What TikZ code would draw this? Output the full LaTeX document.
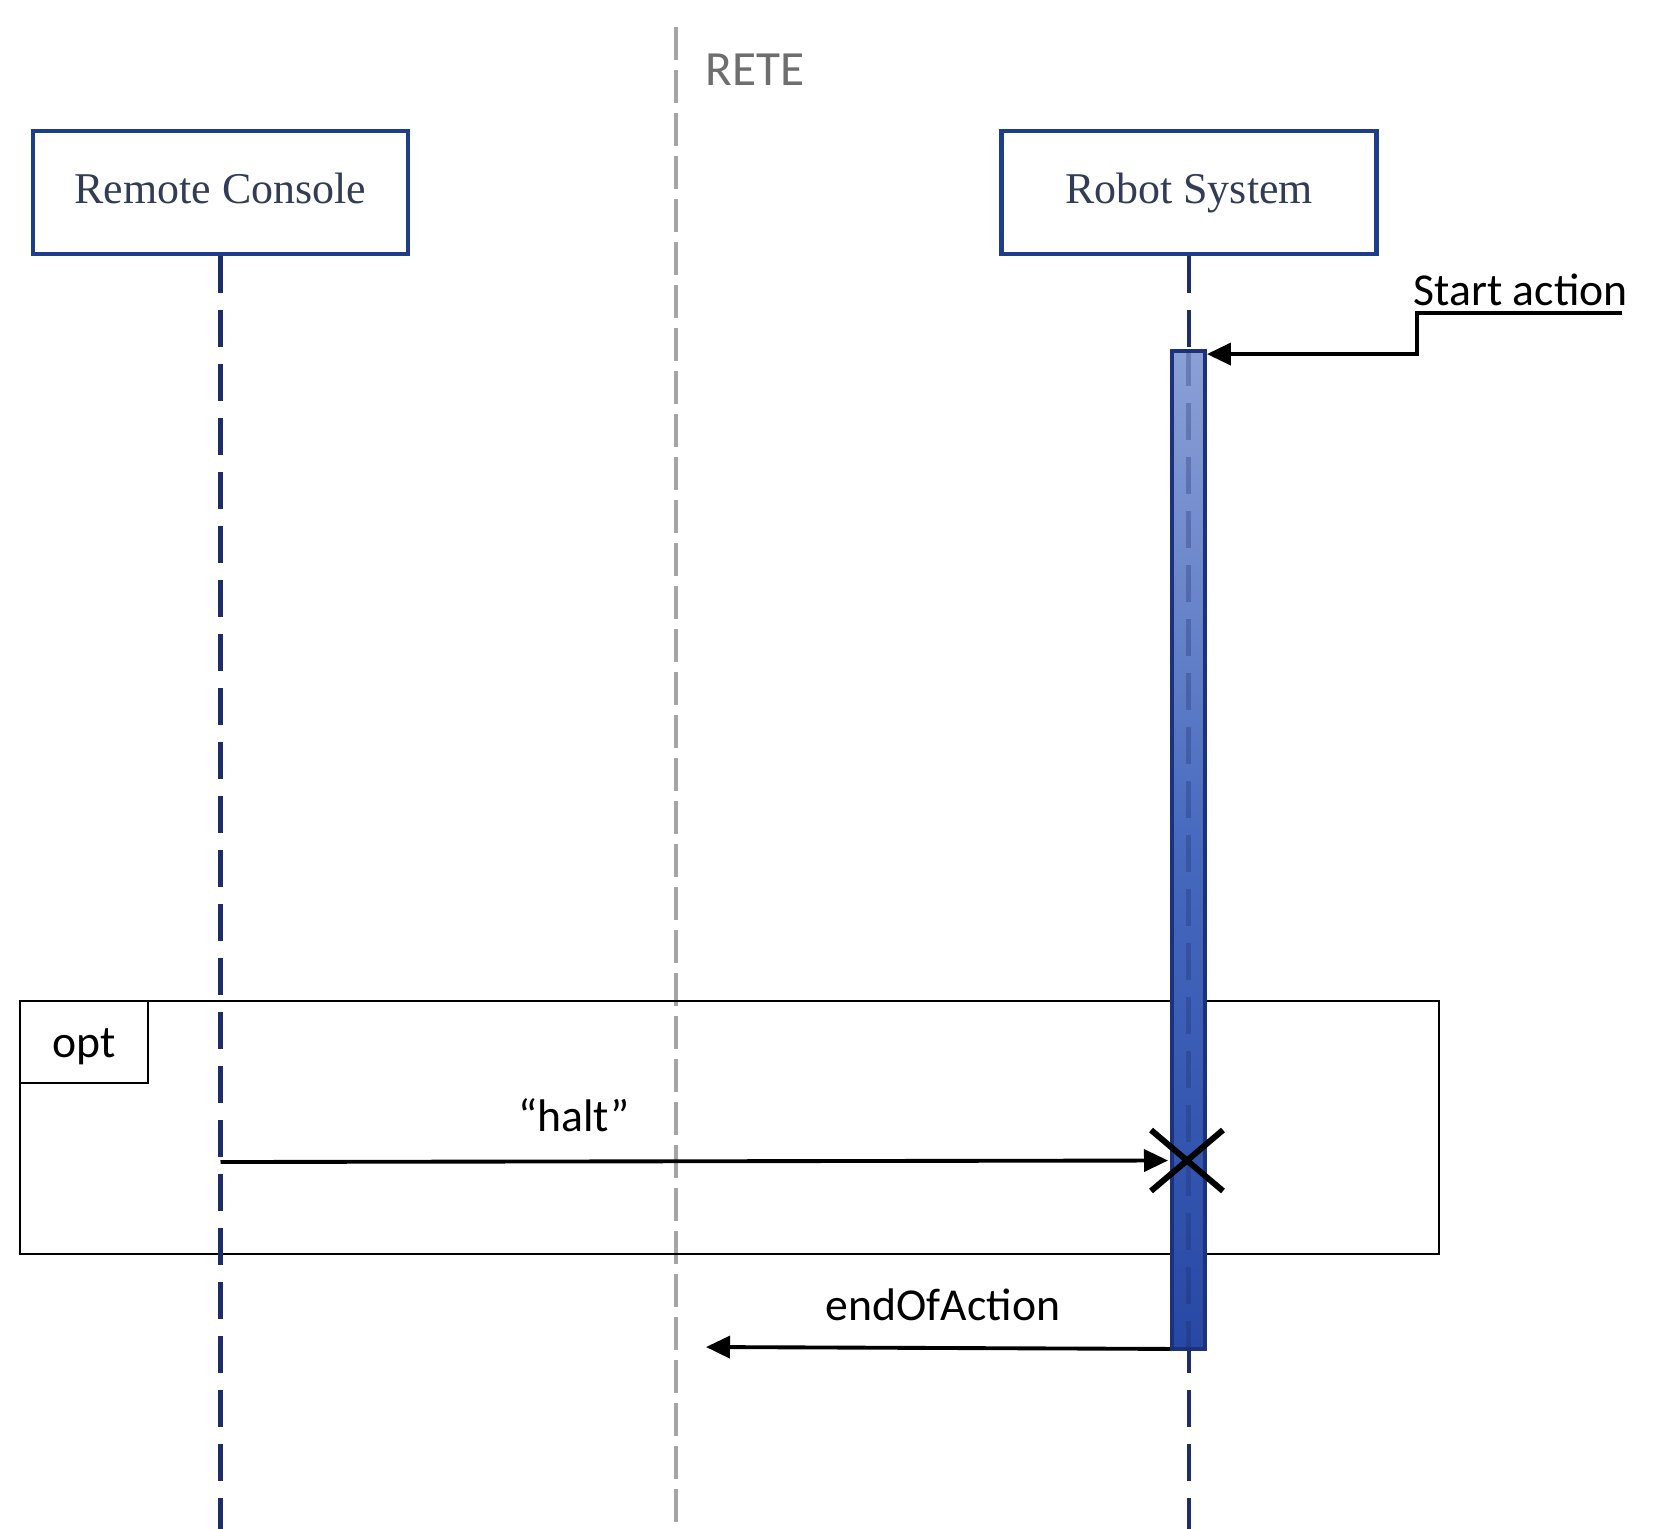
\documentclass[tikz,border=0pt]{standalone}
\usepackage{fontspec}
\setmainfont{Carlito}
\newfontfamily\serifnm{Liberation Serif}
\usetikzlibrary{arrows.meta,shapes.misc,calc}
\definecolor{boxblue}{RGB}{30,62,140}
\definecolor{lifeblue}{RGB}{28,45,105}
\definecolor{txtslate}{RGB}{50,60,85}
\definecolor{bartop}{RGB}{140,160,215}
\definecolor{barmid}{RGB}{70,105,190}
\definecolor{barbot}{RGB}{40,72,165}
\definecolor{barline}{RGB}{28,50,125}
\definecolor{retegray}{RGB}{165,165,165}
\definecolor{retetext}{RGB}{110,110,110}
\begin{document}
\begin{tikzpicture}[
  participant/.style={draw=boxblue, line width=1.2pt, minimum width=3.75cm, minimum height=1.23cm, inner sep=0pt, text height=0.31cm, text depth=0.09cm, font=\serifnm\fontsize{12.5}{14}\selectfont, text=txtslate},
  lifeline/.style={draw=lifeblue, line width=1.4pt, dash pattern=on 0.37cm off 0.17cm},
  netline/.style={draw=retegray, line width=1.1pt, dash pattern=on 0.33cm off 0.1cm},
  msg/.style={draw=black, line width=1.1pt, -{Triangle[length=0.24cm,width=0.22cm]}},
  lbl/.style={font=\fontsize{13}{15}\selectfont, inner sep=0pt},
  frameline/.style={draw=black, line width=0.6pt},
]
\useasboundingbox (0,0) rectangle (16.79,-15.29);
\coordinate (bottom) at (0,-15.29);

% network boundary
\coordinate (netTop) at (6.76,-0.27);
\draw[netline] (netTop) -- (netTop |- bottom);
\node[anchor=base west, font=\fontsize{14}{16}\selectfont, text=retetext, inner sep=0pt] (rete) at (7.05,-0.85) {RETE};

% opt frame
\node[frameline, anchor=north west, minimum width=14.19cm, minimum height=2.53cm, inner sep=0pt] (frame) at (0.19,-10.00) {};
\node[frameline, anchor=north west, minimum width=1.28cm, minimum height=0.82cm, inner sep=0pt, text height=0.42cm, text depth=0.11cm, font=\fontsize{13}{15}\selectfont] (optlbl) at (frame.north west) {opt};

% participants
\node[participant] (rc) at (2.205,-1.925) {Remote Console};
\node[participant] (rs) at (11.89,-1.925) {Robot System};

% lifelines
\draw[lifeline] (rc.south) -- (rc.south |- bottom);
\draw[lifeline] (rs.south) -- (rs.south |- bottom);

% activation bar
\node[draw=barline, line width=1.1pt, minimum width=0.33cm, minimum height=9.98cm, inner sep=0pt, top color=bartop, bottom color=barbot, middle color=barmid] (bar) at (11.885,-8.50) {};
\draw[lifeline, draw opacity=0.3] (bar.north) -- (bar.south);

% start action
\node[lbl, anchor=base west] (sa) at (14.13,-3.05) {Start action};
\coordinate (ulL) at (14.17,-3.13);
\coordinate (ulR) at (16.22,-3.13);
\draw[msg] (ulR) -- (ulL) |- ($(bar.north east)+(0,-0.05)$);

% halt message
\coordinate (haltY) at (0,-11.62);
\coordinate (halttip) at (11.68,-11.605);
\draw[msg] (rc.south |- haltY) -- (halttip);
\node[lbl, anchor=base] (haltl) at (5.74,-11.31) {“halt”};
\node[cross out, draw=black, line width=1.7pt, minimum width=0.66cm, minimum height=0.55cm, inner sep=0pt] (kill) at (11.87,-11.605) {};

% end of action
\coordinate (eoatip) at (7.06,-13.47);
\draw[msg] ($(bar.south west)+(0,0.02)$) -- (eoatip);
\node[lbl, anchor=base] (eoal) at (9.43,-13.20) {endOfAction};
\end{tikzpicture}
\end{document}
